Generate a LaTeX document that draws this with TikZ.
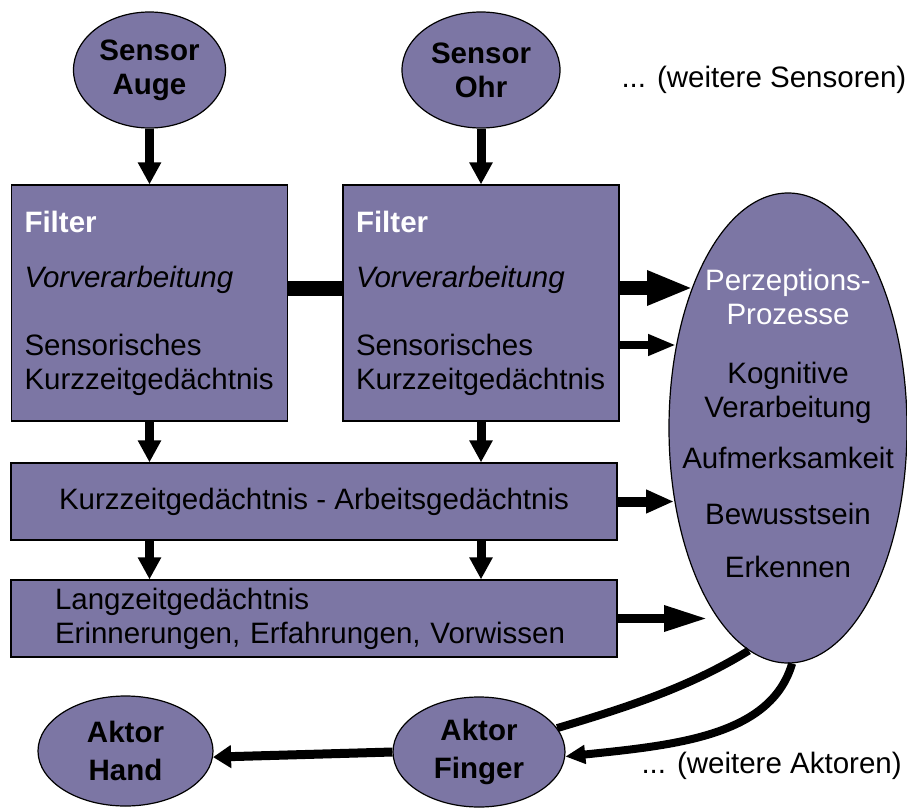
\documentclass[tikz,border=0pt]{standalone}
\usepackage{fontspec}
\setmainfont{Liberation Sans}
\usetikzlibrary{arrows.meta,shapes.geometric}
\definecolor{lila}{RGB}{124,118,164}

\begin{document}
\begin{tikzpicture}[x=1pt,y=-1pt,font=\fontsize{29.5}{34}\selectfont,
  block/.style={draw,fill=lila,line width=1.2pt,inner sep=0pt},
  oval/.style={block,ellipse,align=center},
  pfeil/.style={line width=9pt,-{Triangle[length=22pt,width=22pt]}}]
\useasboundingbox (0,0) rectangle (907,808);

\node[oval,minimum width=152pt,minimum height=116pt] (sensorAuge) at (149.5,70) {\textbf{Sensor}\\\textbf{Auge}};
\node[oval,minimum width=158pt,minimum height=116pt] (sensorOhr) at (481,70) {\textbf{Sensor}\\\textbf{Ohr}};
\node[anchor=base west] (weitereSensoren) at (618,87) {... (weitere Sensoren)};

\node[block,minimum width=276pt,minimum height=236pt,text width=250pt,align=left] (filterAuge) at (149.5,303)
  {\textcolor{white}{\textbf{Filter}}\\[21pt]\textit{Vorverarbeitung}\\[34pt]Sensorisches\\Kurzzeitgedächtnis};
\node[block,minimum width=276pt,minimum height=236pt,text width=250pt,align=left] (filterOhr) at (481,303)
  {\textcolor{white}{\textbf{Filter}}\\[21pt]\textit{Vorverarbeitung}\\[34pt]Sensorisches\\Kurzzeitgedächtnis};
\node[block,minimum width=606pt,minimum height=77pt] (kzg) at (314,501.5) {Kurzzeitgedächtnis - Arbeitsgedächtnis};
\node[block,minimum width=606pt,minimum height=77pt,text width=518pt,align=left] (lzg) at (314,618.5)
  {Langzeitgedächtnis\\Erinnerungen, Erfahrungen, Vorwissen};

\node[oval,minimum width=238pt,minimum height=470pt] (perzeption) at (788,428) {};
\node[align=center,inner sep=0pt] (perzeptionText) at (788,423)
  {\textcolor{white}{Perzeptions-}\\\textcolor{white}{Prozesse}\\[25pt]Kognitive\\Verarbeitung\\[17pt]Aufmerksamkeit\\[22pt]Bewusstsein\\[19pt]Erkennen};

\node[oval,minimum width=175pt,minimum height=110pt] (aktorHand) at (125.5,751) {\textbf{Aktor}\\[4pt]\textbf{Hand}};
\node[oval,minimum width=172pt,minimum height=110pt] (aktorFinger) at (479,752) {\textbf{Aktor}\\[4pt]\textbf{Finger}};
\node[anchor=base west] (weitereAktoren) at (638,773) {... (weitere Aktoren)};

\coordinate (spitzeA) at (693,288);
\coordinate (spitzeB) at (676,345);
\coordinate (spitzeC) at (674,501.5);
\coordinate (spitzeD) at (708,618.5);

\draw[pfeil] (sensorAuge) -- (filterAuge);
\draw[pfeil] (sensorOhr) -- (filterOhr);
\draw[pfeil] (filterAuge.south) -- (filterAuge.south |- kzg.north);
\draw[pfeil] (filterOhr.south) -- (filterOhr.south |- kzg.north);
\draw[pfeil] (filterAuge.south |- kzg.south) -- (filterAuge.south |- lzg.north);
\draw[pfeil] (filterOhr.south |- kzg.south) -- (filterOhr.south |- lzg.north);
\draw[line width=15pt] ([yshift=15pt]filterAuge.east) -- ([yshift=15pt]filterOhr.west);

\draw[line width=14pt,-{Triangle[length=46pt,width=32pt]}] ([yshift=15pt]filterOhr.east) -- (spitzeA);
\draw[line width=8pt,-{Triangle[length=28pt,width=20pt]}] ([yshift=-42pt]filterOhr.east) -- (spitzeB);
\draw[line width=10pt,-{Triangle[length=28pt,width=22pt]}] (kzg.east) -- (spitzeC);
\draw[line width=9pt,-{Triangle[length=44pt,width=24pt]}] (lzg.east) -- (spitzeD);

\draw[line width=9pt,-{Triangle[length=18pt,width=22pt]}] (aktorFinger.west) -- (aktorHand.-4);
\draw[line width=8pt] (perzeption.260) .. controls (690,687) and (628,707) .. (aktorFinger.17);
\draw[line width=8pt,-{Triangle[length=20pt,width=18pt]}] (perzeption.271) .. controls (771,736) and (676,745) .. (aktorFinger.-3);
\end{tikzpicture}
\end{document}
